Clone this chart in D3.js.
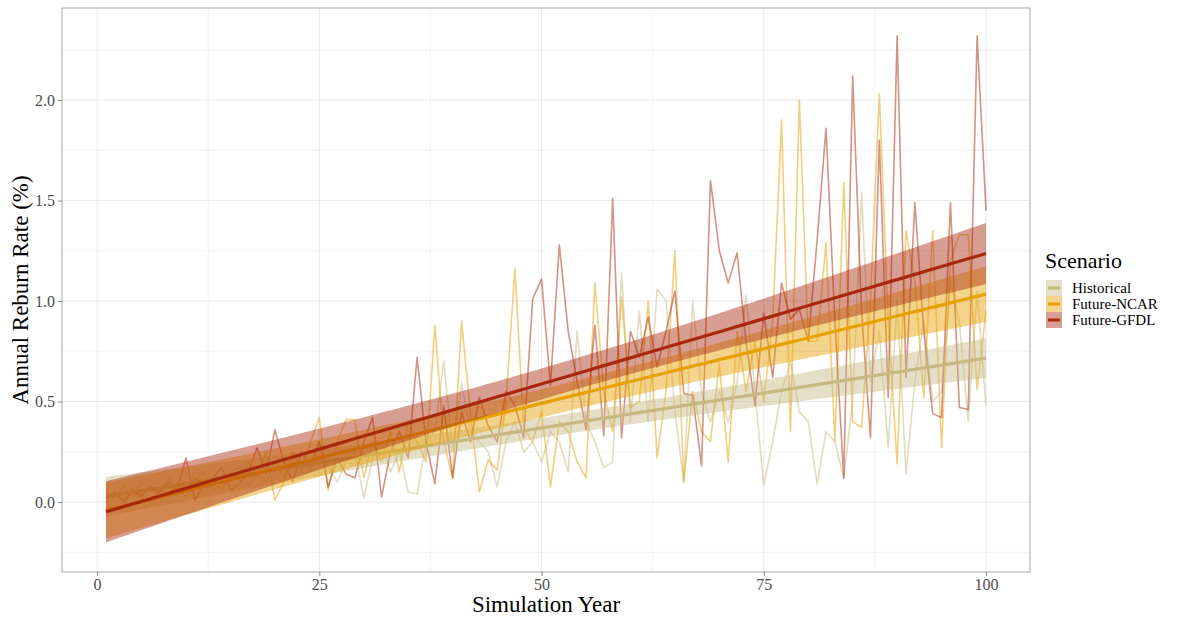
<!DOCTYPE html>
<html>
<head>
<meta charset="utf-8">
<script src="https://cdn.jsdelivr.net/npm/d3@7"></script>
<style>
body { margin: 0; background: #fff; }
svg text { font-family: "Liberation Serif", "Times New Roman", serif; }
</style>
</head>
<body>
<div id="chart"></div>
<script>
// DATA (annual reburn rate, %, simulation years 1..100)
const years = d3.range(1, 101)

const historical = [
0.05,0.02,0.08,0.03,0.10,0.06,0.04,0.12,0.07,0.03,
0.10,0.15,0.05,0.09,0.12,0.18,0.08,0.14,0.10,0.20,
0.12,0.20,0.25,0.15,0.30,0.18,0.10,0.20,0.25,0.02,
0.22,0.30,0.15,0.25,0.05,0.04,0.30,0.35,0.70,0.25,
0.59,0.35,0.30,0.25,0.075,0.30,0.40,0.25,0.30,0.20,
0.35,0.30,0.15,0.85,0.40,0.30,0.17,0.20,1.14,0.40,
0.95,0.40,1.06,1.00,0.45,0.10,1.00,0.55,0.40,0.55,
0.40,0.60,1.03,0.55,0.085,0.30,0.55,0.70,0.45,0.40,
0.09,0.35,0.30,0.12,0.50,1.54,0.60,0.85,0.27,1.00,
0.14,0.60,0.90,0.50,0.55,1.10,0.90,0.40,1.05,0.48]

const futureNCAR = [
0.00,0.03,0.01,0.05,0.02,0.00,0.07,0.04,0.09,0.05,
0.12,0.08,0.10,0.06,0.15,0.11,0.20,0.13,0.25,0.01,
0.10,0.25,0.15,0.30,0.42,0.06,0.30,0.41,0.41,0.12,
0.30,0.20,0.35,0.15,0.40,0.30,0.20,0.88,0.30,0.12,
0.90,0.44,0.05,0.21,0.16,0.50,1.16,0.37,0.30,0.45,
0.075,0.40,0.35,0.20,0.12,1.09,0.55,0.35,1.02,0.47,
0.50,1.00,0.22,0.55,1.25,0.10,0.55,0.35,0.30,0.69,
0.20,0.85,0.55,0.80,0.50,0.90,1.90,0.35,2.00,0.80,
0.80,1.29,0.30,1.59,0.40,0.37,1.00,2.03,0.90,0.19,
1.35,1.10,0.52,1.35,0.27,1.20,1.33,1.33,0.56,0.95]

const futureGFDL = [
0.02,0.05,0.00,0.06,0.03,0.08,0.05,0.10,0.06,0.22,
0.01,0.08,0.12,0.17,0.06,0.09,0.15,0.27,0.14,0.36,
0.20,0.10,0.25,0.18,0.30,0.075,0.22,0.14,0.12,0.30,
0.42,0.025,0.25,0.35,0.22,0.72,0.30,0.09,0.48,0.12,
0.45,0.30,0.52,0.38,0.30,0.55,0.48,0.32,1.01,1.11,
0.58,1.28,0.85,0.60,0.36,0.88,0.33,1.51,0.32,0.85,
0.72,0.92,0.67,0.85,1.05,0.54,0.53,0.18,1.60,1.25,
1.09,1.24,0.80,0.48,0.94,0.62,1.09,0.91,0.96,0.80,
1.30,1.86,0.90,0.12,2.12,0.95,0.32,1.80,0.52,2.32,
0.62,1.49,0.85,0.44,0.42,1.49,0.47,0.46,2.32,1.45]

const scenarios = ["Historical", "Future-NCAR", "Future-GFDL"]
const scenarioValues = [historical, futureNCAR, futureGFDL]
const scenarioColors = ["#c8b982", "#e6a000", "#a8280c"]

const xTicks = [0, 25, 50, 75, 100]
const xMinor = [12.5, 37.5, 62.5, 87.5]
const yTicks = [0, 0.5, 1, 1.5, 2]
const yMinor = [-0.25, 0.25, 0.75, 1.25, 1.75, 2.25]

const width = 1185, height = 618
const panel = {left: 62, top: 8, right: 1030, bottom: 572}

// SCALE
const xScale = d3.scaleLinear()
    .domain([-3.95, 104.95])
    .range([panel.left, panel.right])

const yScale = d3.scaleLinear()
    .domain([-0.348, 2.458])
    .range([panel.bottom, panel.top])

const colorScale = d3.scaleOrdinal()
    .domain(scenarios)
    .range(scenarioColors)

// LINEAR FIT + 95% CI (same as geom_smooth(method = "lm"))
function lmFit(xs, ys) {
    const n = xs.length
    const mx = d3.mean(xs), my = d3.mean(ys)
    let sxx = 0, sxy = 0
    xs.forEach((x, i) => { sxx += (x - mx) ** 2; sxy += (x - mx) * (ys[i] - my) })
    const b = sxy / sxx
    const a = my - b * mx
    const sse = d3.sum(xs, (x, i) => (ys[i] - a - b * x) ** 2)
    const s = Math.sqrt(sse / (n - 2))
    const t = 1.9845 // qt(0.975, 98)
    const [x0, x1] = d3.extent(xs)
    return d3.range(80).map(i => {
        const x = x0 + i * (x1 - x0) / 79
        const fit = a + b * x
        const se = s * Math.sqrt(1 / n + (x - mx) ** 2 / sxx)
        return {x: x, fit: fit, lo: fit - t * se, hi: fit + t * se}
    })
}

const series = scenarios.map((name, i) => ({
    name: name,
    points: years.map((y, j) => ({x: y, v: scenarioValues[i][j]})),
    smooth: lmFit(years, scenarioValues[i])
}))

// SVG
const svg = d3.select("#chart")
    .append("svg")
    .attr("width", width)
    .attr("height", height)
    .style("background", "#fff")

svg.append("clipPath")
    .attr("id", "clip")
    .append("rect")
    .attr("x", panel.left)
    .attr("y", panel.top)
    .attr("width", panel.right - panel.left)
    .attr("height", panel.bottom - panel.top)

// GRID
const grid = svg.append("g")
grid.selectAll(".xminor").data(xMinor).join("line")
    .attr("x1", d => xScale(d)).attr("x2", d => xScale(d))
    .attr("y1", panel.top).attr("y2", panel.bottom)
    .attr("stroke", "#f0f0f0").attr("stroke-width", 0.8)
grid.selectAll(".yminor").data(yMinor).join("line")
    .attr("x1", panel.left).attr("x2", panel.right)
    .attr("y1", d => yScale(d)).attr("y2", d => yScale(d))
    .attr("stroke", "#f0f0f0").attr("stroke-width", 0.8)
grid.selectAll(".xmajor").data(xTicks).join("line")
    .attr("x1", d => xScale(d)).attr("x2", d => xScale(d))
    .attr("y1", panel.top).attr("y2", panel.bottom)
    .attr("stroke", "#e8e8e8").attr("stroke-width", 1)
grid.selectAll(".ymajor").data(yTicks).join("line")
    .attr("x1", panel.left).attr("x2", panel.right)
    .attr("y1", d => yScale(d)).attr("y2", d => yScale(d))
    .attr("stroke", "#e8e8e8").attr("stroke-width", 1)

const plot = svg.append("g").attr("clip-path", "url(#clip)")

// DRAW RAW LINES
const line = d3.line()
    .x(d => xScale(d.x))
    .y(d => yScale(d.v))

plot.selectAll(".raw")
    .data(series)
    .join("path")
    .attr("class", "raw")
    .attr("d", d => line(d.points))
    .attr("fill", "none")
    .attr("stroke", d => colorScale(d.name))
    .attr("stroke-opacity", 0.5)
    .attr("stroke-width", 1.6)
    .attr("stroke-linejoin", "round")

// DRAW CONFIDENCE BANDS
const band = d3.area()
    .x(d => xScale(d.x))
    .y0(d => yScale(d.lo))
    .y1(d => yScale(d.hi))

const fitLine = d3.line()
    .x(d => xScale(d.x))
    .y(d => yScale(d.fit))

const smooths = plot.selectAll(".smooth")
    .data(series)
    .join("g")
    .attr("class", "smooth")

smooths.append("path")
    .attr("d", d => band(d.smooth))
    .attr("fill", d => colorScale(d.name))
    .attr("fill-opacity", 0.45)

smooths.append("path")
    .attr("d", d => fitLine(d.smooth))
    .attr("fill", "none")
    .attr("stroke", d => colorScale(d.name))
    .attr("stroke-width", 3.2)

// PANEL BORDER
svg.append("rect")
    .attr("x", panel.left)
    .attr("y", panel.top)
    .attr("width", panel.right - panel.left)
    .attr("height", panel.bottom - panel.top)
    .attr("fill", "none")
    .attr("stroke", "#a9a9a9")
    .attr("stroke-width", 1)

// DRAW AXES
const xAxis = d3.axisBottom(xScale)
    .tickValues(xTicks)
    .tickSize(4)
    .tickPadding(3)
    .tickFormat(d3.format("d"))

const yAxis = d3.axisLeft(yScale)
    .tickValues(yTicks)
    .tickSize(4)
    .tickPadding(3)
    .tickFormat(d3.format(".1f"))

svg.append("g")
    .attr("transform", `translate(0, ${panel.bottom})`)
    .call(xAxis)
    .call(g => g.select(".domain").remove())
    .call(g => g.selectAll("line").attr("stroke", "#8a8a8a"))
    .call(g => g.selectAll("text").attr("fill", "#4d4d4d").attr("font-size", 16)
        .attr("font-family", "Liberation Serif"))

svg.append("g")
    .attr("transform", `translate(${panel.left}, 0)`)
    .call(yAxis)
    .call(g => g.select(".domain").remove())
    .call(g => g.selectAll("line").attr("stroke", "#8a8a8a"))
    .call(g => g.selectAll("text").attr("fill", "#4d4d4d").attr("font-size", 16)
        .attr("font-family", "Liberation Serif"))

// AXIS TITLES
svg.append("text")
    .attr("x", (panel.left + panel.right) / 2)
    .attr("y", 612)
    .attr("text-anchor", "middle")
    .attr("font-size", 23)
    .attr("fill", "#000")
    .text("Simulation Year")

svg.append("text")
    .attr("transform", `translate(28, ${(panel.top + panel.bottom) / 2}) rotate(-90)`)
    .attr("text-anchor", "middle")
    .attr("font-size", 23)
    .attr("fill", "#000")
    .text("Annual Reburn Rate (%)")

// LEGEND
const legend = svg.append("g")
    .attr("transform", "translate(1045, 0)")

legend.append("text")
    .attr("x", 0)
    .attr("y", 268)
    .attr("font-size", 22)
    .attr("fill", "#000")
    .text("Scenario")

const keys = legend.selectAll(".key")
    .data(scenarios)
    .join("g")
    .attr("class", "key")
    .attr("transform", (d, i) => `translate(0, ${280 + i * 16})`)

keys.append("rect")
    .attr("x", 1)
    .attr("width", 16)
    .attr("height", 16)
    .attr("fill", d => colorScale(d))
    .attr("fill-opacity", 0.45)

keys.append("line")
    .attr("x1", 3).attr("x2", 15)
    .attr("y1", 8).attr("y2", 8)
    .attr("stroke", d => colorScale(d))
    .attr("stroke-width", 3)

keys.append("text")
    .attr("x", 27)
    .attr("y", 13)
    .attr("font-size", 15)
    .attr("fill", "#000")
    .text(d => d)
</script>
</body>
</html>
